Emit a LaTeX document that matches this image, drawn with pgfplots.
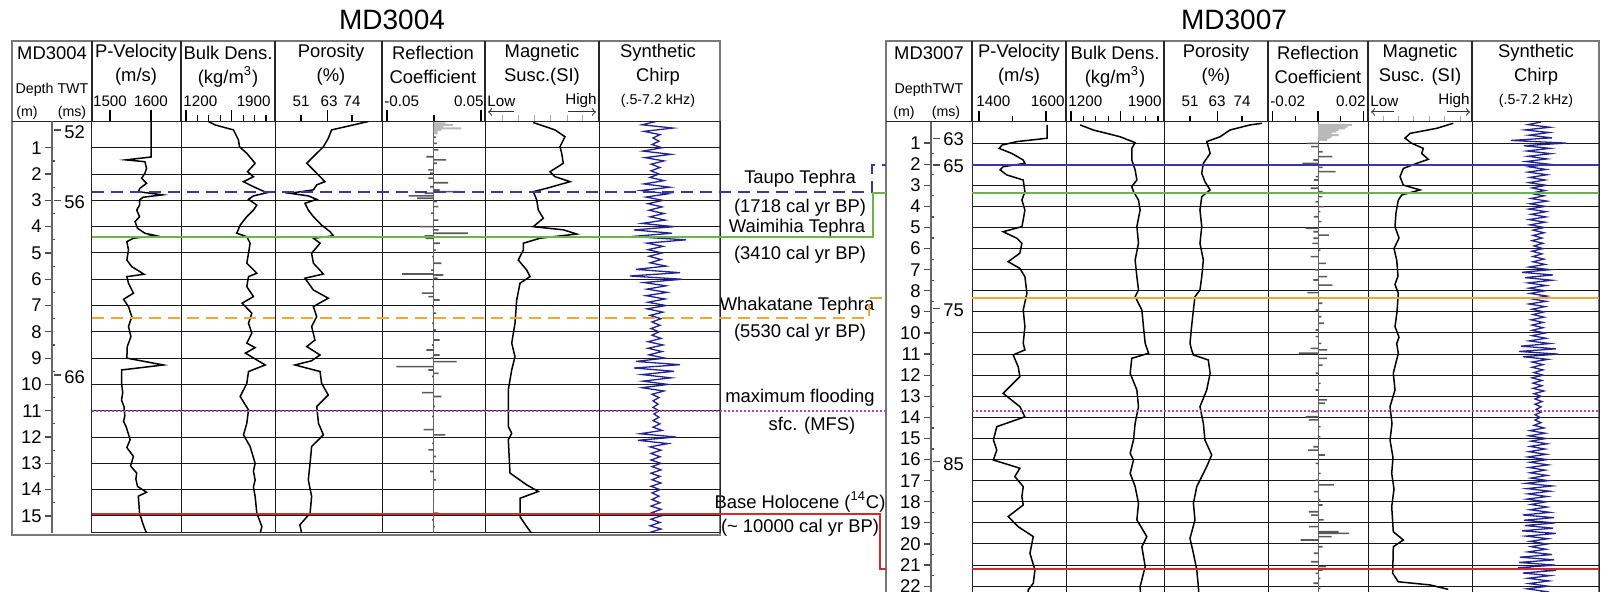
\documentclass[border=0pt]{standalone}
\usepackage{fontspec}
\setmainfont{Liberation Sans}
\usepackage{pgfplots}
\pgfplotsset{compat=1.18}
\definecolor{blueT}{RGB}{55,55,165}
\definecolor{greenT}{RGB}{105,180,75}
\definecolor{orangeT}{RGB}{235,170,55}
\definecolor{purpleT}{RGB}{175,70,175}
\definecolor{redT}{RGB}{215,40,45}
\definecolor{chirpC}{RGB}{35,35,145}
\definecolor{frameG}{RGB}{120,120,120}
\newcommand{\fT}{\fontsize{14}{16}\selectfont}
\newcommand{\fH}{\fontsize{9.2}{11}\selectfont}
\newcommand{\fN}{\fontsize{7.6}{9}\selectfont}
\newcommand{\fS}{\fontsize{7.1}{8}\selectfont}
\newcommand{\fD}{\fontsize{9.2}{10}\selectfont}
\pgfplotsset{
  every axis/.append style={scale only axis},
  colbase/.style={anchor=north west, y dir=reverse, ymin=0, hide y axis,
     axis x line=top, x axis line style={-,black!85,line width=0.5pt},
     xticklabels={}, scaled ticks=false, tick align=outside, major tick length=5.5pt, minor tick length=3pt,
     every tick/.style={black,line width=0.6pt}, clip=true},
  colL/.style={colbase, ymax=15.65, height=205.75pt},
  colR/.style={colbase, ymax=22.5, height=237.375pt},
  curve/.style={black, line width=0.75pt, mark=none},
  spikes/.style={xbar, bar width=0.8pt, fill=gray!70!black, draw=none, mark=none},
  chirpline/.style={chirpC, line width=0.65pt, mark=none},
  frameax/.style={anchor=north west, y dir=reverse, ymin=0, xticklabels={}, yticklabels={},
     major tick length=0pt, minor tick length=0pt, xmajorgrids, ymajorgrids,
     grid style={black!90,line width=0.5pt}, axis line style={black!85,line width=0.5pt}},
  overlay/.style={anchor=north west, y dir=reverse, ymin=0, hide axis, clip=false},
  depthax/.style={anchor=north west, y dir=reverse, ymin=0, xmin=0, hide x axis,
     axis y line=left, y axis line style={-,black!60,line width=0.6pt}, tick align=outside,
     major tick length=3.5pt, minor y tick num=1, minor tick length=1.5pt,
     every minor tick/.append style={xshift=1.5pt},
     every tick/.style={black!70,line width=0.6pt},
     yticklabel style={font=\fD, inner sep=1.5pt},
     /pgf/number format/assume math mode=true, clip=false},
  twt/.style={black!70, line width=0.6pt, mark=none},
}
\begin{document}
\begin{tikzpicture}
\useasboundingbox (0pt,0pt) rectangle (801pt,296pt);
\begin{scope}[x=0.5pt,y=-0.5pt,yshift=296pt]
% ================= LEFT PANEL (MD3004) =================
\node[font=\fT] at (392,20) {MD3004};
\draw[frameG, line width=0.7pt] (12,41) rectangle (720,535);
\draw[black!85, line width=0.5pt] (12,121.5) -- (720,121.5);
\foreach \x in {92,181,275,382,485,599} \draw[black!85, line width=0.6pt] (\x,41) -- (\x,121.5);
\node[font=\fH] at (52,53) {MD3004};
\node[font=\fH] at (136,53) {P-Velocity};
\node[font=\fH] at (228,53) {Bulk Dens.};
\node[font=\fH] at (331,53) {Porosity};
\node[font=\fH] at (433,53) {Reflection};
\node[font=\fH] at (542,53) {Magnetic};
\node[font=\fH] at (658,53) {Synthetic};
\node[font=\fH] at (136,77) {(m/s)};
\node[font=\fH] at (228,77) {(kg/m\textsuperscript{3})};
\node[font=\fH] at (331,77) {(\%)};
\node[font=\fH] at (433,77) {Coefficient};
\node[font=\fH] at (542,77) {Susc.(SI)};
\node[font=\fH] at (658,77) {Chirp};
\node[font=\fS] at (52,90) {Depth TWT};
\node[font=\fS] at (27,113) {(m)};
\node[font=\fS] at (72,113) {(ms)};
\node[font=\fN] at (110,101) {1500};
\node[font=\fN] at (151,101) {1600};
\node[font=\fN, anchor=west, inner sep=0pt] at (183,101) {1200};
\node[font=\fN, anchor=east, inner sep=0pt] at (271,101) {1900};
\node[font=\fN] at (301,101) {51};
\node[font=\fN] at (329,101) {63};
\node[font=\fN] at (352,101) {74};
\node[font=\fN, anchor=west, inner sep=0pt] at (384,101) {-0.05};
\node[font=\fN, anchor=east, inner sep=0pt] at (484,101) {0.05};
\node[font=\fN, anchor=west, inner sep=0pt] at (487,101) {Low};
\node[font=\fN, anchor=east, inner sep=0pt] at (597,101) {High};
\node[font=\fS] at (658,101) {(.5-7.2 kHz)};
\draw[->, black!80, line width=0.5pt] (514,112) -- (488,112);
\draw[->, black!80, line width=0.5pt] (568,112) -- (596,112);
% middle labels
\node[font=\fH] at (800,179) {Taupo Tephra};
\node[font=\fH] at (800,208) {(1718 cal yr BP)};
\node[font=\fH] at (797,228) {Waimihia Tephra};
\node[font=\fH] at (800,255) {(3410 cal yr BP)};
\node[font=\fH] at (797,306) {Whakatane Tephra};
\node[font=\fH] at (800,333) {(5530 cal yr BP)};
\node[font=\fH] at (800,398) {maximum flooding};
\node[font=\fH] at (812,426) {sfc. (MFS)};
\node[font=\fH] at (800,502) {Base Holocene (\textsuperscript{14}C)};
\node[font=\fH] at (800,528) {(\textasciitilde\ 10000 cal yr BP)};
% ================= RIGHT PANEL header =================
\node[font=\fT] at (1234,20) {MD3007};
\draw[frameG, line width=0.7pt] (886,600) -- (886,41) -- (1599,41) -- (1599,600);
\draw[black!85, line width=0.5pt] (886,122) -- (1599,122);
\foreach \x in {972,1066,1164,1268,1368,1472} \draw[black!85, line width=0.6pt] (\x,41) -- (\x,122);
\node[font=\fH] at (929,53) {MD3007};
\node[font=\fH] at (1019,53) {P-Velocity};
\node[font=\fH] at (1115,53) {Bulk Dens.};
\node[font=\fH] at (1216,53) {Porosity};
\node[font=\fH] at (1318,53) {Reflection};
\node[font=\fH] at (1420,53) {Magnetic};
\node[font=\fH] at (1536,53) {Synthetic};
\node[font=\fH] at (1019,77) {(m/s)};
\node[font=\fH] at (1115,77) {(kg/m\textsuperscript{3})};
\node[font=\fH] at (1216,77) {(\%)};
\node[font=\fH] at (1318,77) {Coefficient};
\node[font=\fH] at (1420,77) {Susc. (SI)};
\node[font=\fH] at (1536,77) {Chirp};
\node[font=\fS] at (929,90) {DepthTWT};
\node[font=\fS] at (904,113) {(m)};
\node[font=\fS] at (946,113) {(ms)};
\node[font=\fN, anchor=west, inner sep=0pt] at (976,101) {1400};
\node[font=\fN, anchor=east, inner sep=0pt] at (1065,101) {1600};
\node[font=\fN, anchor=west, inner sep=0pt] at (1068,101) {1200};
\node[font=\fN, anchor=east, inner sep=0pt] at (1162,101) {1900};
\node[font=\fN] at (1190,101) {51};
\node[font=\fN] at (1217,101) {63};
\node[font=\fN] at (1242,101) {74};
\node[font=\fN, anchor=west, inner sep=0pt] at (1270,101) {-0.02};
\node[font=\fN, anchor=east, inner sep=0pt] at (1366,101) {0.02};
\node[font=\fN, anchor=west, inner sep=0pt] at (1370,101) {Low};
\node[font=\fN, anchor=east, inner sep=0pt] at (1470,101) {High};
\node[font=\fS] at (1536,101) {(.5-7.2 kHz)};
\draw[->, black!80, line width=0.5pt] (1394,112) -- (1371,112);
\draw[->, black!80, line width=0.5pt] (1447,112) -- (1470,112);
\end{scope}
% ================= LEFT PANEL axes =================
\begin{axis}[frameax, at={(46pt,235.25pt)}, width=314pt, height=205.75pt, xmin=92, xmax=720, ymax=15.65,
  xtick={181,275,382,485,599}, ytick={1,...,15}]
\end{axis}
\begin{axis}[depthax, at={(26pt,235.25pt)}, width=20pt, height=205.75pt, xmax=40, ymax=15.65, ytick={1,...,15}]
\addplot[twt] coordinates {(2,0.32) (9,0.32)};
\addplot[twt] coordinates {(2,3.0) (9,3.0)};
\addplot[twt] coordinates {(2,9.64) (9,9.64)};
\node[anchor=west, font=\fD, inner sep=1pt] at (axis cs:10,0.4) {52};
\node[anchor=west, font=\fD, inner sep=1pt] at (axis cs:10,3.05) {56};
\node[anchor=west, font=\fD, inner sep=1pt] at (axis cs:10,9.72) {66};
\end{axis}
\begin{axis}[colL, at={(46pt,235.25pt)}, width=44.5pt, xmin=1456, xmax=1673, xtick={1500,1600}]
\addplot[curve] coordinates {(1600,0) (1600,1.35) (1539,1.46) (1585,1.53) (1589,1.78) (1585,1.97) (1577,2.16) (1589,2.35) (1573,2.54) (1569,2.67) (1628,2.79) (1581,2.88) (1572,2.98) (1572,3.18) (1565,3.37) (1572,3.62) (1561,3.81) (1567,4.06) (1585,4.25) (1611,4.34) (1557,4.44) (1541,4.57) (1545,4.89) (1541,5.27) (1553,5.52) (1583,5.81) (1541,5.9) (1545,6.15) (1557,6.53) (1533,6.76) (1545,7.04) (1553,7.42) (1545,7.8) (1551,8.18) (1542,8.56) (1541,9.0) (1630,9.26) (1528,9.45) (1528,9.96) (1531,10.3) (1528,10.6) (1534,10.84) (1536,11.2) (1533,11.4) (1539,11.6) (1545,11.9) (1549,12.1) (1541,12.4) (1557,12.74) (1550,13.1) (1565,13.37) (1563,13.6) (1567,13.88) (1589,14.1) (1569,14.25) (1572,14.9) (1581,15.34) (1589,15.66)};
\end{axis}
\begin{axis}[colL, at={(90.5pt,235.25pt)}, width=47pt, xmin=1156, xmax=1979, xtick={1200,1600}, minor xtick={1300,1400,1500,1700,1800,1900}]
\addplot[curve] coordinates {(1396,0) (1454,0.13) (1615,0.32) (1659,0.70) (1668,0.96) (1732,1.21) (1805,1.59) (1738,1.91) (1790,2.10) (1703,2.29) (1790,2.48) (1908,2.71) (1790,2.83) (1747,2.96) (1820,3.18) (1790,3.37) (1732,3.62) (1674,3.94) (1644,4.25) (1732,4.38) (1761,4.63) (1747,5.01) (1732,5.39) (1820,5.77) (1747,5.90) (1732,6.28) (1790,6.66) (1691,6.91) (1776,7.29) (1747,7.67) (1776,8.05) (1732,8.43) (1805,8.60) (1720,8.81) (1893,9.26) (1747,9.51) (1732,9.96) (1674,10.46) (1747,10.97) (1732,11.48) (1703,11.92) (1761,12.36) (1805,13.0) (1790,13.3) (1805,13.63) (1790,13.9) (1805,14.26) (1820,14.9) (1864,15.41) (1849,15.66)};
\end{axis}
\begin{axis}[colL, at={(137.5pt,235.25pt)}, width=53.5pt, xmin=39.3, xmax=87.5, xtick={63}, minor xtick={51,74}]
\addplot[curve] coordinates {(81.3,0) (64.8,0.32) (63.3,0.64) (61.1,0.96) (58.1,1.21) (53.6,1.59) (56.6,1.84) (59.6,2.10) (61.8,2.29) (58.1,2.41) (56.6,2.60) (46.0,2.73) (54.3,2.83) (58.1,2.96) (52.8,3.11) (54.3,3.37) (56.6,3.62) (60.3,3.94) (64.1,4.19) (65.6,4.35) (56.6,4.44) (59.6,4.63) (55.8,5.01) (56.6,5.39) (61.1,5.80) (52.8,5.96) (56.6,6.41) (63.3,6.72) (56.6,7.04) (58.1,7.42) (55.8,7.80) (57.3,8.31) (53.6,8.56) (59.6,8.88) (55.8,9.1) (48.3,9.26) (59.6,9.51) (60.3,9.96) (63.3,10.40) (58.1,10.84) (58.9,11.48) (61.1,11.92) (55.8,12.36) (55.1,13.0) (54.3,13.63) (55.8,14.26) (55.1,14.9) (50.5,15.34) (51.3,15.66)};
\end{axis}
\begin{axis}[colL, at={(191pt,235.25pt)}, width=51.5pt, xmin=-0.0553, xmax=0.0543, xtick={-0.05,0.05}, minor xtick={0}]
\addplot[gray!80!black, line width=0.5pt] coordinates {(0,0) (0,15.65)};
\addplot[spikes, bar width=1pt, fill=gray!55] coordinates {(0.012,0.07) (0.020,0.13) (0.010,0.20) (0.029,0.26) (0.008,0.32) (0.004,0.39) (0.004,0.45)};
\addplot[spikes] coordinates {(0.002,0.6) (0.003,0.83) (0.0046,1.08) (-0.008,1.34) (0.013,1.46) (0.003,1.59) (-0.006,1.84) (-0.004,1.97) (-0.006,2.16) (0.015,2.33) (-0.004,2.48) (0.006,2.60) (0.026,2.67) (-0.010,2.73) (-0.027,2.83) (-0.018,2.92) (0.003,3.05) (0.0046,3.24) (-0.003,3.49) (0.0046,3.75) (-0.015,4.00) (0.005,4.12) (0.036,4.25) (-0.010,4.35) (-0.009,4.44) (0.0064,4.63) (0.002,4.89) (-0.002,5.14) (0.008,5.39) (-0.003,5.65) (-0.034,5.80) (0.010,5.84) (0.004,5.96) (-0.002,6.28) (-0.013,6.53) (-0.006,6.66) (0.006,6.79) (-0.002,7.04) (0.002,7.29) (0.001,7.48) (-0.002,7.67) (0.002,7.93) (0.006,8.31) (-0.002,8.50) (-0.008,8.69) (0.006,8.88) (-0.003,9.00) (0.024,9.13) (-0.040,9.32) (-0.006,9.45) (0.005,9.58) (-0.002,9.70) (-0.013,10.31) (0.008,10.46) (0.001,10.84) (-0.002,11.22) (-0.011,11.72) (0.012,11.92) (-0.002,12.24) (-0.006,12.49) (0.002,12.74) (-0.004,13.31) (0.002,13.63) (0.001,14.01) (-0.001,14.39) (0.005,14.90) (-0.002,15.15) (0.001,15.41)};
\end{axis}
\begin{axis}[colL, at={(242.5pt,235.25pt)}, width=57pt, xmin=0, xmax=114, xtick={17,33,49,65,82,97}, major tick length=3pt, every tick/.style={gray!70,line width=0.5pt}]
\addplot[curve] coordinates {(48.3,0.04) (70,0.32) (80,0.58) (75,0.96) (76.7,1.21) (78.3,1.59) (65,1.91) (70,2.1) (85,2.29) (61.7,2.54) (48.3,2.67) (51.7,2.98) (53.3,3.37) (58.3,3.68) (48.3,4.0) (78.3,4.12) (91.7,4.28) (55,4.44) (38.3,4.63) (38.3,4.89) (33.3,5.27) (41.7,5.65) (45,5.9) (35,6.15) (31.7,6.79) (30,7.67) (26.7,8.43) (30,8.94) (26.7,9.45) (23.3,10.21) (23.3,11.6) (26.7,11.86) (23.3,12.1) (25,13.37) (41.7,13.82) (53.3,14.07) (35,14.33) (35,15.03) (41.7,15.41) (46.7,15.66)};
\end{axis}
\begin{axis}[colL, at={(299.5pt,235.25pt)}, width=60.5pt, xmin=-57, xmax=64, xtick=\empty]
\addplot[chirpline] coordinates {(0,0) (-14,0.125) (17,0.25) (-12,0.375) (4,0.5) (-3,0.625) (3,0.75) (-4,0.875) (6,1.0) (-13,1.125) (15,1.25) (-11,1.375) (8,1.5) (-5,1.625) (4,1.75) (-5,1.875) (3,2.0) (-6,2.125) (8,2.25) (-12,2.375) (14,2.5) (-15,2.625) (12,2.75) (-10,2.875) (7,3.0) (-8,3.125) (6,3.25) (-7,3.375) (8,3.5) (-6,3.625) (9,3.75) (-14,3.875) (18,4.0) (-22,4.125) (16,4.25) (-25,4.375) (30,4.5) (-9,4.625) (7,4.75) (-8,4.875) (6,5.0) (-7,5.125) (5,5.25) (-6,5.375) (10,5.5) (-20,5.625) (24,5.75) (-26,5.875) (26,6.0) (-12,6.125) (10,6.25) (-9,6.375) (11,6.5) (-10,6.625) (9,6.75) (-8,6.875) (10,7.0) (-9,7.125) (7,7.25) (-6,7.375) (5,7.5) (-4,7.625) (4,7.75) (-5,7.875) (3,8.0) (-4,8.125) (5,8.25) (-8,8.375) (7,8.5) (-8,8.625) (6,8.75) (-7,8.875) (9,9.0) (-20,9.125) (24,9.25) (-22,9.375) (18,9.5) (-14,9.625) (15,9.75) (-13,9.875) (12,10.0) (-14,10.125) (8,10.25) (-4,10.375) (3,10.5) (-3,10.625) (2,10.75) (-3,10.875) (3,11.0) (-2,11.125) (3,11.25) (-3,11.375) (4,11.5) (-3,11.625) (6,11.75) (-16,11.875) (20,12.0) (-18,12.125) (12,12.25) (-6,12.375) (5,12.5) (-5,12.625) (4,12.75) (-5,12.875) (5,13.0) (-4,13.125) (5,13.25) (-5,13.375) (4,13.5) (-4,13.625) (5,13.75) (-5,13.875) (4,14.0) (-4,14.125) (3,14.25) (-4,14.375) (4,14.5) (-5,14.625) (5,14.75) (-4,14.875) (5,15.0) (-5,15.125) (4,15.25) (-6,15.375) (5,15.5) (-6,15.625)};
\end{axis}
\begin{axis}[overlay, at={(46pt,235.25pt)}, width=314pt, height=205.75pt, xmin=92, xmax=720, ymax=15.65]
\addplot[blueT, line width=1pt, dash pattern=on 6pt off 3.5pt] coordinates {(92,2.68) (872,2.68) (872,1.65) (886,1.65)};
\addplot[greenT, line width=1pt] coordinates {(92,4.39) (873,4.39) (873,2.72) (886,2.72)};
\addplot[orangeT, line width=1pt, dash pattern=on 6pt off 3.5pt] coordinates {(92,7.47) (869,7.47) (869,6.71) (886,6.71)};
\addplot[purpleT, line width=1pt, dash pattern=on 1pt off 1pt] coordinates {(92,11.0) (886,11.0)};
\addplot[redT, line width=1pt] coordinates {(92,14.92) (880,14.92) (880,17.02) (886,17.02)};
\end{axis}
% ================= RIGHT PANEL axes =================
\begin{axis}[frameax, at={(486pt,235pt)}, width=313.5pt, height=237.375pt, xmin=972, xmax=1599, ymax=22.5,
  xtick={1066,1164,1268,1368,1472}, ytick={1,...,22}]
\end{axis}
\begin{axis}[depthax, at={(465.5pt,235pt)}, width=20.5pt, height=237.375pt, xmax=41, ymax=22.5, ytick={1,...,22}]
\addplot[twt] coordinates {(2,0.77) (9,0.77)};
\addplot[twt] coordinates {(2,2.04) (9,2.04)};
\addplot[twt] coordinates {(2,8.83) (9,8.83)};
\addplot[twt] coordinates {(2,16.1) (9,16.1)};
\node[anchor=west, font=\fD, inner sep=1pt] at (axis cs:10,0.8) {63};
\node[anchor=west, font=\fD, inner sep=1pt] at (axis cs:10,2.1) {65};
\node[anchor=west, font=\fD, inner sep=1pt] at (axis cs:10,8.9) {75};
\node[anchor=west, font=\fD, inner sep=1pt] at (axis cs:10,16.2) {85};
\end{axis}
\begin{axis}[colR, at={(486pt,235pt)}, width=47pt, xmin=1379.1, xmax=1659.7, xtick={1400,1600}, minor xtick={1500}]
\addplot[curve] coordinates {(1603,0.14) (1603,0.77) (1513,0.93) (1469,1.09) (1460,1.25) (1498,1.49) (1532,1.8) (1537,1.96) (1472,2.12) (1463,2.27) (1483,2.51) (1532,2.75) (1537,3.3) (1528,3.7) (1537,4.17) (1532,4.64) (1528,4.96) (1472,5.2) (1513,5.51) (1528,5.75) (1522,6.22) (1487,6.62) (1522,6.94) (1537,7.33) (1543,8.12) (1532,8.91) (1537,9.7) (1532,10.49) (1537,10.8) (1502,11.04) (1517,11.6) (1522,12.07) (1472,12.86) (1522,13.49) (1537,13.97) (1453,14.44) (1443,15.07) (1453,15.55) (1443,16.02) (1522,16.41) (1507,16.8) (1532,17.28) (1528,17.75) (1532,18.15) (1487,18.7) (1517,19.18) (1562,19.65) (1552,20.44) (1567,21.23) (1562,21.86) (1547,22.18) (1545,22.5)};
\end{axis}
\begin{axis}[colR, at={(533pt,235pt)}, width=49pt, xmin=1159.8, xmax=1948.2, xtick={1200,1600}, minor xtick={1300,1400,1500,1700,1800,1900}]
\addplot[curve] coordinates {(1273,0.14) (1380,0.38) (1595,0.7) (1716,0.98) (1689,1.25) (1689,1.8) (1716,2.27) (1730,2.75) (1689,3.06) (1703,3.3) (1743,3.7) (1756,4.17) (1730,4.96) (1743,5.75) (1716,6.54) (1730,7.33) (1743,7.96) (1716,8.28) (1770,8.91) (1783,9.7) (1797,10.49) (1824,10.96) (1689,11.2) (1676,11.91) (1730,12.7) (1743,13.49) (1716,14.28) (1703,15.07) (1676,15.7) (1703,16.02) (1676,16.65) (1716,17.28) (1743,18.07) (1730,18.86) (1810,19.65) (1770,20.13) (1797,21.07) (1756,22.02) (1760,22.5)};
\end{axis}
\begin{axis}[colR, at={(582pt,235pt)}, width=52pt, xmin=39.5, xmax=85.5, xtick={63}, minor xtick={51,74}]
\addplot[curve] coordinates {(82.9,0.06) (77.5,0.14) (68.7,0.38) (64.3,0.7) (58.4,0.93) (59.1,1.17) (59.9,1.49) (56.9,1.96) (56.2,2.43) (57.6,2.83) (59.9,3.22) (56.2,3.54) (55.4,4.17) (56.2,4.96) (55.4,5.75) (56.9,6.54) (56.2,7.33) (55.4,7.96) (53.2,8.28) (52.5,8.91) (51.7,9.7) (51.0,10.49) (51.7,10.8) (52.5,11.04) (59.1,11.28) (59.9,11.91) (58.4,12.7) (55.4,13.49) (56.9,14.28) (57.6,15.07) (60.6,15.78) (58.4,16.33) (54.0,17.28) (52.5,18.07) (53.2,18.86) (51.0,19.73) (52.5,20.44) (54.0,21.23) (54.7,22.02) (55,22.5)};
\end{axis}
\begin{axis}[colR, at={(634pt,235pt)}, width=50pt, xmin=-0.02193, xmax=0.02193, xtick={-0.02,0,0.02}, minor xtick={-0.01,0.01}]
\addplot[gray!80!black, line width=0.5pt] coordinates {(0,0) (0,22.5)};
\addplot[spikes, bar width=1pt, fill=gray!55] coordinates {(0.015,0.14) (0.013,0.22) (0.012,0.30) (0.009,0.38) (0.008,0.46) (0.006,0.54) (0.009,0.62) (0.006,0.70) (0.005,0.77) (0.004,0.85)};
\addplot[spikes] coordinates {(-0.0047,1.01) (-0.003,1.17) (0.002,1.41) (0.0063,1.64) (-0.002,1.80) (-0.0069,1.96) (0.002,2.15) (0.0077,2.35) (-0.001,2.59) (-0.0018,2.75) (-0.0032,3.14) (0.002,3.30) (0.0019,3.54) (-0.001,3.78) (0.0026,4.01) (0.001,4.25) (-0.0018,4.49) (0.0015,4.72) (-0.0054,5.04) (-0.002,5.20) (0.0048,5.36) (-0.002,5.51) (-0.0025,5.75) (0.001,6.07) (-0.0032,6.38) (0.0034,6.70) (-0.0015,7.01) (0.004,7.33) (-0.002,7.49) (0.0063,7.73) (-0.0047,8.09) (0.001,8.36) (0.0019,8.59) (-0.001,8.91) (0.0015,9.23) (0.0026,9.54) (-0.001,9.86) (-0.001,10.17) (0.0015,10.49) (-0.0032,10.73) (0.004,10.80) (-0.0083,10.96) (0.004,11.20) (0.002,11.52) (-0.001,11.91) (0.0012,12.39) (-0.001,12.70) (0.004,13.17) (0.003,13.33) (-0.003,13.73) (-0.0054,13.97) (-0.004,14.12) (0.0012,14.44) (0.001,14.91) (-0.002,15.39) (-0.0045,15.55) (0.003,15.78) (-0.001,16.18) (0.0012,16.65) (-0.001,16.97) (0.007,17.20) (-0.0018,17.52) (0.001,17.91) (0.002,18.15) (-0.004,18.47) (-0.003,18.63) (0.0025,18.86) (-0.004,19.18) (0.009,19.42) (0.0136,19.50) (0.006,19.65) (-0.0076,19.81) (0.002,20.13) (-0.0018,20.44) (-0.003,20.84) (0.0034,21.07) (0.002,21.23) (-0.001,21.39) (0.001,21.63) (-0.002,21.86) (0.001,22.10)};
\end{axis}
\begin{axis}[colR, at={(684pt,235pt)}, width=52pt, xmin=0, xmax=104, xtick={15,30,45,61,76,92}, major tick length=3pt, every tick/.style={gray!70,line width=0.5pt}]
\addplot[curve] coordinates {(85.3,0.06) (68.7,0.3) (42,0.54) (37,0.77) (43.7,1.01) (55.3,1.25) (53.7,1.49) (60.3,1.77) (48.7,1.96) (35.3,2.2) (32,2.59) (35.3,2.99) (52,3.22) (33.7,3.46) (30.3,3.7) (28,4.3) (27,4.96) (31,5.5) (26,6.0) (28.7,6.54) (30,7.3) (27,7.7) (30.3,8.12) (29,9.0) (27,9.7) (31,10.2) (28.7,10.5) (30.3,10.96) (25.3,11.91) (27,12.7) (22,13.49) (24,14.3) (22,15.07) (25,15.9) (23.7,16.65) (26,17.4) (23.7,18.23) (25.3,19.42) (35.3,19.81) (25.3,20.13) (24.7,21.39) (30.3,21.79) (62,21.94) (80.3,22.15)};
\end{axis}
\begin{axis}[colR, at={(736pt,235pt)}, width=63.5pt, xmin=-66, xmax=61, xtick=\empty]
\addplot[chirpline] coordinates {(3,0) (-10,0.125) (12,0.25) (-13,0.375) (11,0.5) (-9,0.625) (14,0.75) (-27,0.875) (28,1.0) (-14,1.125) (12,1.25) (-11,1.375) (13,1.5) (-10,1.625) (9,1.75) (-12,1.875) (11,2.0) (-9,2.125) (8,2.25) (-10,2.375) (9,2.5) (-8,2.625) (7,2.75) (-9,2.875) (8,3.0) (-6,3.125) (7,3.25) (-8,3.375) (6,3.5) (-7,3.625) (9,3.75) (-8,3.875) (7,4.0) (-9,4.125) (8,4.25) (-7,4.375) (8,4.5) (-9,4.625) (7,4.75) (-8,4.875) (6,5.0) (-5,5.125) (6,5.25) (-5,5.375) (4,5.5) (-6,5.625) (5,5.75) (-4,5.875) (5,6.0) (-6,6.125) (4,6.25) (-5,6.375) (6,6.5) (-5,6.625) (7,6.75) (-9,6.875) (12,7.0) (-16,7.125) (15,7.25) (-13,7.375) (14,7.5) (-10,7.625) (8,7.75) (-9,7.875) (7,8.0) (-8,8.125) (9,8.25) (-7,8.375) (8,8.5) (-9,8.625) (7,8.75) (-6,8.875) (6,9.0) (-5,9.125) (6,9.25) (-7,9.375) (5,9.5) (-6,9.625) (5,9.75) (-6,9.875) (7,10.0) (-6,10.125) (8,10.25) (-9,10.375) (12,10.5) (-17,10.625) (18,10.75) (-19,10.875) (20,11.0) (-15,11.125) (10,11.25) (-6,11.375) (5,11.5) (-6,11.625) (5,11.75) (-4,11.875) (5,12.0) (-6,12.125) (4,12.25) (-5,12.375) (4,12.5) (-5,12.625) (6,12.75) (-4,12.875) (3,13.0) (-3,13.125) (4,13.25) (-3,13.375) (3,13.5) (-2,13.625) (3,13.75) (-3,13.875) (2,14.0) (-3,14.125) (3,14.25) (-4,14.375) (6,14.5) (-8,14.625) (7,14.75) (-9,14.875) (8,15.0) (-7,15.125) (9,15.25) (-8,15.375) (7,15.5) (-9,15.625) (8,15.75) (-10,15.875) (9,16.0) (-8,16.125) (10,16.25) (-9,16.375) (7,16.5) (-8,16.625) (9,16.75) (-7,16.875) (10,17.0) (-12,17.125) (14,17.25) (-11,17.375) (12,17.5) (-10,17.625) (9,17.75) (-11,17.875) (8,18.0) (-7,18.125) (9,18.25) (-8,18.375) (12,18.5) (-15,18.625) (16,18.75) (-14,18.875) (17,19.0) (-13,19.125) (15,19.25) (-16,19.375) (18,19.5) (-12,19.625) (10,19.75) (-8,19.875) (9,20.0) (-7,20.125) (8,20.25) (-10,20.375) (14,20.5) (-18,20.625) (16,20.75) (-19,20.875) (17,21.0) (-20,21.125) (18,21.25) (-15,21.375) (12,21.5) (-10,21.625) (11,21.75) (-9,21.875) (10,22.0) (-11,22.125) (8,22.25) (-6,22.375) (5,22.5)};
\end{axis}
\begin{axis}[overlay, at={(486pt,235pt)}, width=313.5pt, height=237.375pt, xmin=972, xmax=1599, ymax=22.5]
\addplot[blueT, line width=0.9pt] coordinates {(972,2.04) (1599,2.04)};
\addplot[greenT, line width=0.9pt] coordinates {(972,3.36) (1599,3.36)};
\addplot[orangeT, line width=0.9pt] coordinates {(972,8.34) (1599,8.34)};
\addplot[purpleT, line width=1pt, dash pattern=on 1pt off 1pt] coordinates {(972,13.70) (1599,13.70)};
\addplot[redT, line width=1pt] coordinates {(972,21.18) (1599,21.18)};
\end{axis}
\end{tikzpicture}
\end{document}
